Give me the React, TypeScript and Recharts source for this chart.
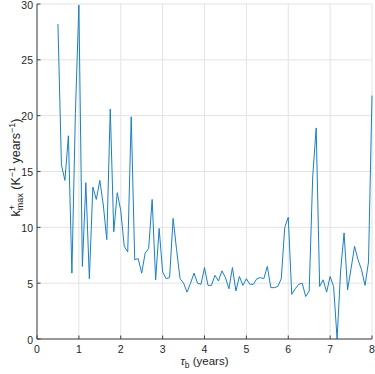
import React from "react";
import { LineChart, Line, XAxis, YAxis, CartesianGrid, Label } from "recharts";

// tau_b sampled monthly, from 6 to 96 months
const tauMonths = [
  6, 7, 8, 9, 10, 11, 12, 13, 14, 15, 16, 17, 18, 19, 20, 21, 22, 23, 24, 25,
  26, 27, 28, 29, 30, 31, 32, 33, 34, 35, 36, 37, 38, 39, 40, 41, 42, 43, 44,
  45, 46, 47, 48, 49, 50, 51, 52, 53, 54, 55, 56, 57, 58, 59, 60, 61, 62, 63,
  64, 65, 66, 67, 68, 69, 70, 71, 72, 73, 74, 75, 76, 77, 78, 79, 80, 81, 82,
  83, 84, 85, 86, 87, 88, 89, 90, 91, 92, 93, 94, 95, 96,
];

const kMax = [
  28.2, 15.6, 14.2, 18.2, 5.9, 20.2, 29.9, 6.5, 14.0, 5.4,
  13.6, 12.5, 14.2, 12.0, 8.9, 20.6, 9.6, 13.1, 11.5, 8.3,
  7.8, 19.9, 7.1, 7.2, 5.9, 7.7, 8.1, 12.5, 5.3, 9.9,
  6.0, 5.4, 5.5, 10.8, 8.0, 5.4, 5.0, 4.2, 5.0, 5.9,
  5.0, 4.9, 6.4, 4.8, 4.8, 5.7, 5.2, 6.1, 5.5, 4.5,
  6.4, 4.3, 5.6, 4.8, 5.4, 4.9, 4.9, 5.4, 5.5, 5.4,
  6.5, 4.6, 4.6, 4.7, 5.4, 10.0, 10.9, 4.0, 4.5, 4.9,
  5.0, 3.8, 4.3, 14.5, 18.9, 4.7, 5.3, 4.2, 5.6, 4.7,
  0.0, 6.1, 9.5, 4.4, 6.3, 8.3, 7.1, 6.2, 4.8, 6.9, 21.8,
];

const xTicks = [0, 1, 2, 3, 4, 5, 6, 7, 8];
const yTicks = [0, 5, 10, 15, 20, 25, 30];

const data = tauMonths.map((m, i) => ({ tau: m / 12, k: kMax[i] }));

const FONT = '"Liberation Sans", Arial, Helvetica, sans-serif';
const AXIS = "#404040";
const TEXT = "#262626";
const TICK_LEN = 3.5;

const BottomTick = (props: any) => {
  const { x, y, payload } = props;
  return (
    <g>
      <line x1={x} y1={y} x2={x} y2={y - TICK_LEN} stroke={AXIS} />
      <text x={x} y={y + 14} textAnchor="middle" fontSize={10.5} fontFamily={FONT} fill={TEXT}>
        {payload.value}
      </text>
    </g>
  );
};

const TopTick = (props: any) => {
  const { x, y } = props;
  return <line x1={x} y1={y} x2={x} y2={y + TICK_LEN} stroke={AXIS} />;
};

const LeftTick = (props: any) => {
  const { x, y, payload } = props;
  return (
    <g>
      <line x1={x} y1={y} x2={x + TICK_LEN} y2={y} stroke={AXIS} />
      <text x={x - 4} y={y + 4.5} textAnchor="end" fontSize={10.5} fontFamily={FONT} fill={TEXT}>
        {payload.value}
      </text>
    </g>
  );
};

const RightTick = (props: any) => {
  const { x, y } = props;
  return <line x1={x} y1={y} x2={x - TICK_LEN} y2={y} stroke={AXIS} />;
};

const XLabel = (props: any) => {
  const vb = props.viewBox;
  return (
    <text x={vb.x + vb.width / 2} y={vb.y + 26} textAnchor="middle" fontSize={11.5} fontFamily={FONT} fill={TEXT}>
      <tspan fontStyle="italic">τ</tspan>
      <tspan fontSize={8.5} dy={3}>b</tspan>
      <tspan dy={-3}> (years)</tspan>
    </text>
  );
};

const YLabel = (props: any) => {
  const vb = props.viewBox;
  const cx = 20;
  const cy = vb.y + vb.height / 2 - 4;
  return (
    <text
      x={cx}
      y={cy}
      transform={`rotate(-90 ${cx} ${cy})`}
      textAnchor="middle"
      fontSize={12.5}
      fontFamily={FONT}
      fill={TEXT}
    >
      <tspan>k</tspan>
      <tspan fontSize={9} dy={-5}>+</tspan>
      <tspan fontSize={9} dx={-5.3} dy={8}>max</tspan>
      <tspan dy={-3}> (K</tspan>
      <tspan fontSize={9} dy={-5}>−1</tspan>
      <tspan dy={5}> years</tspan>
      <tspan fontSize={9} dy={-5}>−1</tspan>
      <tspan dy={5}>)</tspan>
    </text>
  );
};

export default function App() {
  return (
    <div style={{ position: "absolute", left: 0, top: 0, background: "#fff" }}>
      <LineChart width={375} height={374} data={data} margin={{ top: 4, right: 3, left: 0, bottom: 0 }}>
        <CartesianGrid stroke="#e3e3e3" />
        <XAxis
          dataKey="tau"
          type="number"
          domain={[0, 8]}
          ticks={xTicks}
          height={35}
          tickSize={0}
          tickMargin={0}
          tickLine={false}
          stroke={AXIS}
          tick={<BottomTick />}
          interval={0}
        >
          <Label content={<XLabel />} />
        </XAxis>
        <XAxis
          xAxisId="top"
          orientation="top"
          dataKey="tau"
          type="number"
          domain={[0, 8]}
          ticks={xTicks}
          height={0}
          tickSize={0}
          tickMargin={0}
          tickLine={false}
          stroke={AXIS}
          tick={<TopTick />}
          interval={0}
        />
        <YAxis
          type="number"
          domain={[0, 30]}
          ticks={yTicks}
          width={37}
          tickSize={0}
          tickMargin={0}
          tickLine={false}
          stroke={AXIS}
          tick={<LeftTick />}
          interval={0}
          allowDataOverflow
        >
          <Label content={<YLabel />} />
        </YAxis>
        <YAxis
          yAxisId="right"
          orientation="right"
          type="number"
          domain={[0, 30]}
          ticks={yTicks}
          width={0}
          tickSize={0}
          tickMargin={0}
          tickLine={false}
          stroke={AXIS}
          tick={<RightTick />}
          interval={0}
        />
        <Line
          type="linear"
          dataKey="k"
          stroke="#1a7fc6"
          strokeWidth={1}
          dot={false}
          isAnimationActive={false}
        />
      </LineChart>
    </div>
  );
}
